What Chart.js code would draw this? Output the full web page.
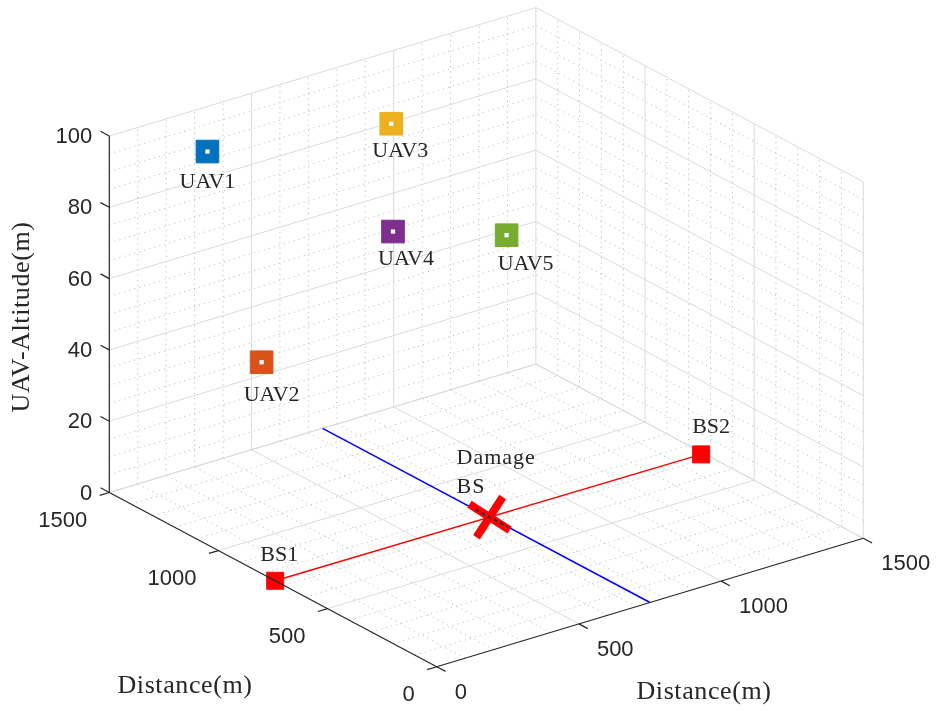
<!DOCTYPE html>
<html>
<head>
<meta charset="utf-8">
<title>UAV deployment</title>
<script src="https://cdn.jsdelivr.net/npm/chart.js@4.4.1/dist/chart.umd.min.js"></script>
<style>
  html, body { margin: 0; padding: 0; background: #fff; overflow: hidden; }
  canvas { display: block; }
</style>
</head>
<body>
<canvas id="scene" width="939" height="711"></canvas>
<script>
// axis ranges and ticks
const distTicks = [0, 500, 1000, 1500];
const altTicks = [0, 20, 40, 60, 80, 100];
const distMinorStep = 100;
const altMinorStep = 5;

// base stations: [left distance axis, right distance axis, altitude]
const bsNames = ['BS1', 'BS2'];
const bsA = [740, 730];
const bsB = [0, 1490];
const bsZ = [0, 0];

// damaged base station
const damageName = ['Damage', 'BS'];
const damageA = [735];
const damageB = [750];
const damageZ = [0];

// broken link segment next to the damaged station
const brokenA = [800, 650];
const brokenB = [750, 750];

// blue road across the field
const roadA = [0, 1500];
const roadB = [750, 750];

// UAVs
const uavNames = ['UAV1', 'UAV2', 'UAV3', 'UAV4', 'UAV5'];
const uavA = [1350, 1180, 1140, 995, 885];
const uavB = [230, 290, 715, 610, 925];
const uavZ = [95, 40, 98, 75, 70];
const uavColors = ['#0072BD', '#D95319', '#EDB120', '#7E2F8E', '#77AC30'];

// label offsets in screen pixels (dx, dy) from the marker
const uavLabelOff = [[0, 31], [10, 33], [9, 27], [13, 28], [19, 29]];
const bsLabelOff = [[4, -26], [10, -27]];

// orthographic view: screen position of the origin and one unit step on each axis
const VIEW = {
  origin: [436.7, 666.7],
  a: [-327.4 / 1500, -174.2 / 1500],
  b: [426.6 / 1500, -128.4 / 1500],
  z: [0, -356.5 / 100]
};
const DMAX = 1500, ZMAX = 100;

function project(a, b, z) {
  return {
    x: VIEW.origin[0] + a * VIEW.a[0] + b * VIEW.b[0] + z * VIEW.z[0],
    y: VIEW.origin[1] + a * VIEW.a[1] + b * VIEW.b[1] + z * VIEW.z[1]
  };
}

function pts(as, bs, zs) {
  return as.map((a, i) => project(a, bs[i], zs ? zs[i] : 0));
}

function range(lo, hi, step) {
  const out = [];
  for (let v = lo; v <= hi + 1e-9; v += step) out.push(v);
  return out;
}

// box grid lines as pairs of 3D points
function gridLines(major) {
  const isMajD = v => v % 500 === 0;
  const isMajZ = v => v % 20 === 0;
  const dv = range(0, DMAX, distMinorStep).filter(v => isMajD(v) === major);
  const zv = range(0, ZMAX, altMinorStep).filter(v => isMajZ(v) === major);
  const L = [];
  // back-left wall (a = max)
  dv.forEach(b => { if (b > 0) L.push([[DMAX, b, 0], [DMAX, b, ZMAX]]); });
  zv.forEach(z => L.push([[DMAX, 0, z], [DMAX, DMAX, z]]));
  // back-right wall (b = max)
  dv.forEach(a => { if (a < DMAX) L.push([[a, DMAX, 0], [a, DMAX, ZMAX]]); });
  zv.forEach(z => L.push([[0, DMAX, z], [DMAX, DMAX, z]]));
  // floor
  dv.forEach(a => { if (a > 0) L.push([[a, 0, 0], [a, DMAX, 0]]); });
  dv.forEach(b => { if (b > 0) L.push([[0, b, 0], [DMAX, b, 0]]); });
  return L;
}

function toPx(chart, p) {
  return [chart.scales.x.getPixelForValue(p.x), chart.scales.y.getPixelForValue(p.y)];
}

function strokeLines(chart, lines) {
  const ctx = chart.ctx;
  ctx.beginPath();
  lines.forEach(([p, q]) => {
    const s = toPx(chart, project(...p));
    const e = toPx(chart, project(...q));
    ctx.moveTo(s[0], s[1]);
    ctx.lineTo(e[0], e[1]);
  });
  ctx.stroke();
}

const boxGrid = {
  id: 'boxGrid',
  beforeDatasetsDraw(chart) {
    const ctx = chart.ctx;
    ctx.save();
    ctx.lineWidth = 1;
    ctx.strokeStyle = '#bdbdbd';
    ctx.setLineDash([1.2, 4]);
    strokeLines(chart, gridLines(false));
    ctx.setLineDash([]);
    ctx.strokeStyle = '#dadada';
    strokeLines(chart, gridLines(true));
    ctx.restore();
  }
};

const AXIS_COLOR = '#262626';
const SANS = '22px "Liberation Sans", Arial, sans-serif';
const SERIF = '22px "Liberation Serif", "Times New Roman", serif';
const TITLE = '26px "Liberation Serif", "Times New Roman", serif';

function unit(v) {
  const n = Math.hypot(v[0], v[1]);
  return [v[0] / n, v[1] / n];
}

const axesAndText = {
  id: 'axesAndText',
  afterDatasetsDraw(chart) {
    const ctx = chart.ctx;
    ctx.save();
    ctx.strokeStyle = AXIS_COLOR;
    ctx.lineWidth = 1.2;
    // axis lines
    strokeLines(chart, [
      [[0, 0, 0], [DMAX, 0, 0]],
      [[0, 0, 0], [0, DMAX, 0]],
      [[DMAX, 0, 0], [DMAX, 0, ZMAX]]
    ]);

    // tick marks
    const tickLen = 10;
    const ua = unit(VIEW.a), ub = unit(VIEW.b);
    ctx.beginPath();
    distTicks.forEach(v => {
      let p = toPx(chart, project(v, 0, 0));
      ctx.moveTo(p[0], p[1]);
      ctx.lineTo(p[0] - ub[0] * tickLen, p[1] - ub[1] * tickLen);
      p = toPx(chart, project(0, v, 0));
      ctx.moveTo(p[0], p[1]);
      ctx.lineTo(p[0] - ua[0] * tickLen, p[1] - ua[1] * tickLen);
    });
    altTicks.forEach(v => {
      const p = toPx(chart, project(DMAX, 0, v));
      ctx.moveTo(p[0], p[1]);
      ctx.lineTo(p[0] + ua[0] * tickLen, p[1] + ua[1] * tickLen);
    });
    ctx.stroke();

    // tick labels
    ctx.fillStyle = AXIS_COLOR;
    ctx.font = SANS;
    ctx.textBaseline = 'middle';
    ctx.textAlign = 'right';
    altTicks.forEach(v => {
      const p = toPx(chart, project(DMAX, 0, v));
      ctx.fillText(String(v), p[0] - 17, p[1] + 1);
    });
    distTicks.forEach(v => {
      const p = toPx(chart, project(v, 0, 0));
      ctx.fillText(String(v), p[0] - 22, p[1] + 28);
    });
    ctx.textAlign = 'left';
    distTicks.forEach(v => {
      const p = toPx(chart, project(0, v, 0));
      ctx.fillText(String(v), p[0] + 18, p[1] + 26);
    });

    // axis titles
    ctx.font = TITLE;
    ctx.letterSpacing = '0.6px';
    ctx.textAlign = 'center';
    ctx.fillText('Distance(m)', 185, 686);
    ctx.fillText('Distance(m)', 704, 692);
    ctx.save();
    ctx.translate(22, 317);
    ctx.rotate(-Math.PI / 2);
    ctx.fillText('UAV-Altitude(m)', 0, 0);
    ctx.restore();
    ctx.letterSpacing = '0px';

    // point labels
    ctx.font = SERIF;
    uavNames.forEach((name, i) => {
      const p = toPx(chart, project(uavA[i], uavB[i], uavZ[i]));
      ctx.fillText(name, p[0] + uavLabelOff[i][0], p[1] + uavLabelOff[i][1]);
    });
    bsNames.forEach((name, i) => {
      const p = toPx(chart, project(bsA[i], bsB[i], bsZ[i]));
      ctx.fillText(name, p[0] + bsLabelOff[i][0], p[1] + bsLabelOff[i][1]);
    });
    const d = toPx(chart, project(damageA[0], damageB[0], damageZ[0]));
    ctx.textAlign = 'left';
    ctx.letterSpacing = '1px';
    ctx.fillText(damageName[0], d[0] - 33, d[1] - 59);
    ctx.fillText(damageName[1], d[0] - 33, d[1] - 30);
    ctx.restore();
  }
};

const lineStyle = { showLine: true, pointRadius: 0, fill: false };

new Chart(document.getElementById('scene'), {
  type: 'scatter',
  data: {
    datasets: [
      {
        ...lineStyle,
        data: pts(brokenA, brokenB),
        borderColor: '#333333',
        borderWidth: 2,
        borderDash: [4, 3]
      },
      {
        data: pts(damageA, damageB, damageZ),
        pointStyle: 'crossRot',
        pointRadius: 24,
        pointRotation: -12,
        borderColor: '#ff0000',
        borderWidth: 8
      },
      {
        data: pts(uavA, uavB, uavZ),
        pointStyle: 'rect',
        pointRadius: 3,
        backgroundColor: '#ffffff',
        borderColor: '#ffffff',
        borderWidth: 0
      },
      {
        data: pts(uavA, uavB, uavZ),
        pointStyle: 'rect',
        pointRadius: 16,
        backgroundColor: uavColors,
        borderColor: uavColors,
        borderWidth: 1
      },
      {
        data: pts(bsA, bsB, bsZ),
        pointStyle: 'rect',
        pointRadius: 12,
        backgroundColor: '#ff0000',
        borderColor: '#ff0000',
        borderWidth: 1
      },
      {
        ...lineStyle,
        data: pts(bsA, bsB, bsZ),
        borderColor: '#ff0000',
        borderWidth: 1.5
      },
      {
        ...lineStyle,
        data: pts(roadA, roadB),
        borderColor: '#0000ff',
        borderWidth: 1.5
      }
    ]
  },
  options: {
    responsive: false,
    devicePixelRatio: 1,
    animation: false,
    events: [],
    layout: { padding: 0, autoPadding: false },
    plugins: { legend: { display: false }, tooltip: { enabled: false } },
    scales: {
      x: { type: 'linear', min: 0, max: 939, display: false },
      y: { type: 'linear', min: 0, max: 711, reverse: true, display: false }
    }
  },
  plugins: [boxGrid, axesAndText]
});
</script>
</body>
</html>
